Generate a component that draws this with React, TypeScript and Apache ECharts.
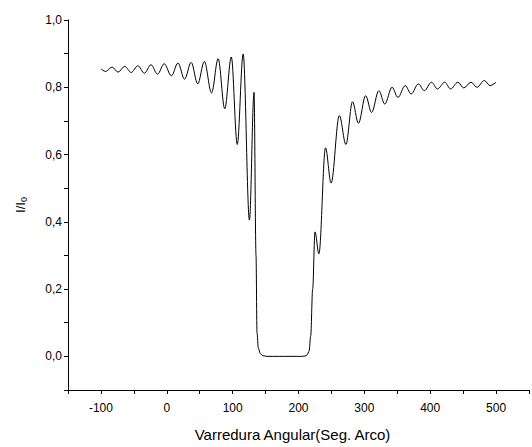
import React, { useEffect, useRef } from "react";
import * as echarts from "echarts";

const xValues = [
  -100, -93, -83, -74, -64, -54, -44, -34, -24, -14, -4, 7, 17, 27, 37, 47, 57, 68, 78, 88, 98, 107, 116, 125.5, 132.5,
  135.5, 137, 139, 142, 146, 152, 170, 190, 205, 210, 213, 216, 218.5, 221.5, 225, 231, 241, 249.5, 262, 272,
  282, 291, 302, 311, 322, 331, 342, 351, 362, 371, 382, 391, 402, 411, 422, 431, 442, 451, 462, 471, 482, 491, 500,
];
const yValues = [
  0.855, 0.847, 0.86, 0.845, 0.862, 0.844, 0.864, 0.842, 0.867, 0.839, 0.87, 0.834, 0.872, 0.824, 0.874, 0.81, 0.877,
  0.783, 0.885, 0.736, 0.89, 0.63, 0.899, 0.405, 0.785,
  0.3, 0.07, 0.025, 0.008, 0.002, 0.0, 0.0, 0.0, 0.0, 0.001, 0.004, 0.015, 0.06, 0.2, 0.37, 0.305, 0.62, 0.515, 0.716,
  0.63, 0.757, 0.693, 0.775, 0.725, 0.79, 0.75, 0.8, 0.77, 0.805, 0.78, 0.81, 0.79, 0.815, 0.795, 0.815, 0.795, 0.815,
  0.798, 0.815, 0.8, 0.82, 0.805, 0.815,
];

const xTickLabels = [-100, 0, 100, 200, 300, 400, 500];
const yTickLabels = ["0,0", "0,2", "0,4", "0,6", "0,8", "1,0"];

const FONT = "'Liberation Sans', Arial, sans-serif";

export default function App() {
  const ref = useRef<HTMLDivElement>(null);
  useEffect(() => {
    if (!ref.current) return;
    const chart = echarts.init(ref.current, undefined, { renderer: "svg" });
    const data = xValues.map((x, i) => [x, yValues[i]]);
    chart.setOption({
      animation: false,
      backgroundColor: "#ffffff",
      grid: { left: 68, top: 20, right: 0, bottom: 55, containLabel: false },
      xAxis: {
        type: "value",
        min: -150,
        max: 550,
        interval: 50,
        name: "Varredura Angular(Seg. Arco)",
        nameLocation: "middle",
        nameGap: 37,
        nameTextStyle: { color: "#000", fontSize: 15, fontFamily: FONT, padding: [0, 12, 0, 0] },
        axisLine: { show: true, onZero: false, lineStyle: { color: "#000", width: 1 } },
        axisTick: { show: true, length: 4, lineStyle: { color: "#000" } },
        splitLine: { show: false },
        axisLabel: {
          color: "#000",
          fontSize: 12,
          fontFamily: FONT,
          margin: 12,
          formatter: (v: number) => (xTickLabels.indexOf(Math.round(v)) >= 0 ? String(Math.round(v)) : ""),
        },
      },
      yAxis: {
        type: "value",
        min: -0.1,
        max: 1.0,
        interval: 0.1,
        name: "I/I{sub|0}",
        nameLocation: "middle",
        nameRotate: 90,
        nameGap: 40,
        nameTextStyle: {
          color: "#000",
          fontSize: 13,
          fontFamily: FONT,
          rich: { sub: { fontSize: 9, verticalAlign: "bottom", padding: [6, 0, 0, 0], fontFamily: FONT, color: "#000" } },
        },
        axisLine: { show: true, onZero: false, lineStyle: { color: "#000", width: 1 } },
        axisTick: { show: true, length: 4, lineStyle: { color: "#000" } },
        splitLine: { show: false },
        axisLabel: {
          color: "#000",
          fontSize: 12,
          fontFamily: FONT,
          margin: 6,
          formatter: (v: number) => {
            const k = Math.round(v * 10);
            if (k < 0 || k % 2 !== 0) return "";
            return yTickLabels[k / 2] ?? "";
          },
        },
      },
      series: [
        {
          type: "line",
          data,
          showSymbol: false,
          smooth: 0.35,
          smoothMonotone: "x",
          lineStyle: { color: "#000", width: 1 },
        },
      ],
    });
    return () => chart.dispose();
  }, []);
  return <div ref={ref} style={{ position: "fixed", left: 0, top: 0, width: 532, height: 447 }} />;
}
